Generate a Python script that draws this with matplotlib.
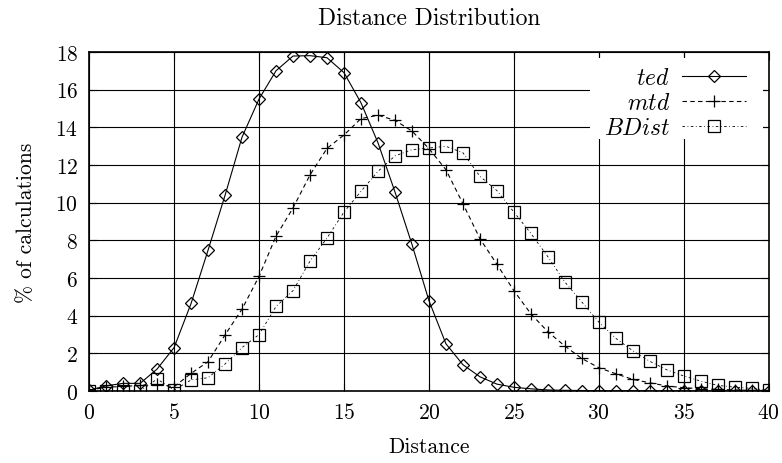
import numpy as np
import matplotlib
matplotlib.use('Agg')
import matplotlib.pyplot as plt
from matplotlib.patches import Rectangle

plt.rcParams['font.family'] = 'cmr10'
plt.rcParams['mathtext.fontset'] = 'cm'
plt.rcParams['axes.unicode_minus'] = False
plt.rcParams['axes.formatter.use_mathtext'] = True

# Data
distance = list(range(41))
ted = [0.05, 0.28, 0.41, 0.41, 1.17, 2.31, 4.65, 7.48, 10.39, 13.48,
       15.50, 17.00, 17.78, 17.80, 17.69, 16.90, 15.30, 13.18, 10.57, 7.79,
       4.80, 2.51, 1.40, 0.76, 0.37, 0.20, 0.12, 0.06, 0.04, 0.03,
       0.02, 0.02, 0.02, 0.01, 0.01, 0.01, 0.01, 0.01, 0.01, 0.01, 0.01]
mtd = [0.05, 0.20, 0.25, 0.30, 0.36, 0.23, 0.94, 1.56, 2.98, 4.35,
       6.09, 8.22, 9.72, 11.47, 12.88, 13.59, 14.46, 14.64, 14.37, 13.80,
       12.87, 11.75, 9.95, 8.09, 6.73, 5.33, 4.10, 3.15, 2.39, 1.73,
       1.24, 0.92, 0.62, 0.44, 0.27, 0.18, 0.12, 0.09, 0.06, 0.04, 0.03]
bdist = [0.0, 0.0, 0.0, 0.0, 0.64, 0.05, 0.59, 0.71, 1.44, 2.31,
         3.00, 4.49, 5.33, 6.90, 8.12, 9.50, 10.60, 11.66, 12.48, 12.81,
         12.90, 12.99, 12.65, 11.40, 10.64, 9.50, 8.37, 7.13, 5.79, 4.73,
         3.66, 2.80, 2.14, 1.58, 1.13, 0.80, 0.53, 0.30, 0.21, 0.14, 0.05]

fs = 15.5
fig = plt.figure(figsize=(7.82, 4.64), dpi=100)
ax = fig.add_axes([0.114, 0.155, 0.869, 0.731])

ax.plot(distance, ted, color='black', lw=0.8, ls='-', marker='D', ms=6,
        mfc='none', mec='black', mew=0.9, label='$ted$', zorder=3)
ax.plot(distance, mtd, color='black', lw=0.8, ls=(0, (4, 3)), marker='+', ms=8,
        mew=0.9, label='$mtd$', zorder=3)
ax.plot(distance, bdist, color='black', lw=0.6, ls=(0, (3, 3, 1, 3)), marker='s', ms=8,
        mfc='none', mec='black', mew=0.9, label='$BDist$', zorder=3)

ax.set_xlim(0, 40)
ax.set_ylim(0, 18)
ax.set_xticks(range(0, 41, 5))
ax.set_yticks(range(0, 19, 2))
ax.grid(True, color='black', lw=0.8)
ax.set_axisbelow(True)
ax.tick_params(direction='in', top=True, right=True, length=6, labelsize=fs, pad=8)
for s in ax.spines.values():
    s.set_linewidth(1.2)

# white block behind the key, hiding the grid there (tick stubs stay visible)
ax.add_patch(Rectangle((0.737, 0.743), 0.254, 0.239, transform=ax.transAxes,
                       facecolor='white', edgecolor='none', zorder=1))

ax.set_xlabel('Distance', fontsize=fs, labelpad=10)
ax.set_ylabel('% of calculations', fontsize=fs, labelpad=14)
ax.set_title('Distance Distribution', fontsize=17, pad=20)

leg = ax.legend(loc='upper right', bbox_to_anchor=(0.966, 0.955), fontsize=fs + 1.5,
                markerfirst=False, frameon=False, borderaxespad=0, borderpad=0,
                handlelength=2.7, labelspacing=0.12, handletextpad=0.5)

fig.savefig('out.png', dpi=100)
